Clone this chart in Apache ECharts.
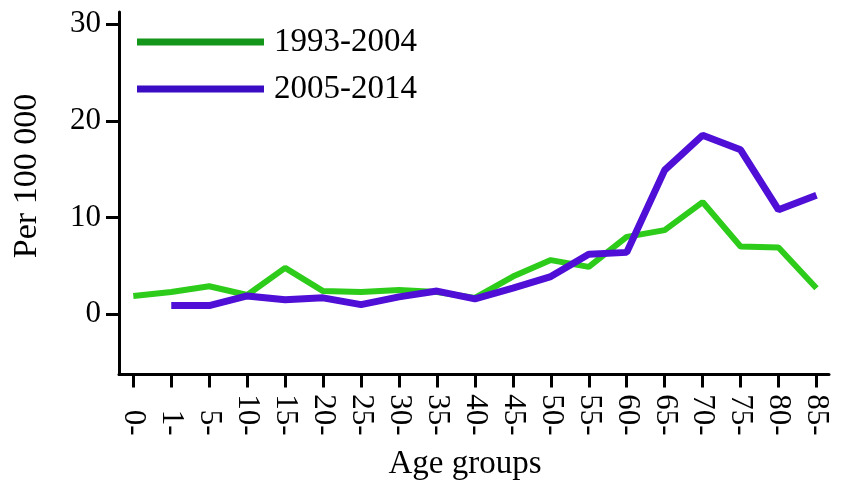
<!DOCTYPE html>
<html>
<head>
<meta charset="utf-8">
<script src="https://cdn.jsdelivr.net/npm/echarts@6/dist/echarts.min.js"></script>
<style>
html,body{margin:0;padding:0;background:#fff;}
#chart{width:853px;height:502px;}
</style>
</head>
<body>
<div id="chart"></div>
<script>
var categories = ['0-','1-','5-','10-','15-','20-','25-','30-','35-','40-','45-','50-','55-','60-','65-','70-','75-','80-','85-'];
var series1993 = [1.9, 2.3, 2.9, 2.0, 4.8, 2.4, 2.3, 2.5, 2.3, 1.7, 3.9, 5.6, 4.9, 8.0, 8.7, 11.6, 7.0, 6.9, 2.7];
var series2005 = [null, 0.9, 0.9, 1.9, 1.5, 1.7, 1.0, 1.8, 2.4, 1.6, 2.7, 3.9, 6.2, 6.4, 14.9, 18.5, 17.0, 10.8, 12.3];
var yTicks = [0, 10, 20, 30];
var seriesNames = ['1993-2004', '2005-2014'];

function toPairs(arr){
  var out = [];
  arr.forEach(function(v, i){ if (v !== null) out.push([i, v]); });
  return out;
}
var xIdx = categories.map(function(c, i){ return i; });

var chart = echarts.init(document.getElementById('chart'), null, {renderer:'canvas'});
var font = '"Liberation Serif", "Times New Roman", serif';
chart.setOption({
  animation: false,
  backgroundColor: '#fff',
  grid: {left: 119, right: 24, top: 12, bottom: 127.5},
  legend: {
    orient: 'vertical',
    left: 137,
    top: 24,
    padding: 0,
    itemWidth: 127,
    itemHeight: 7,
    itemGap: 11,
    icon: 'rect',
    textStyle: {fontFamily: font, fontSize: 33, color: '#000', lineHeight: 36, padding: [0,0,0,5]},
    data: [
      {name: seriesNames[0], itemStyle: {color: '#14961a'}},
      {name: seriesNames[1], itemStyle: {color: '#3a0cc4'}}
    ]
  },
  xAxis: {
    type: 'value',
    min: -0.377,
    max: 18.33,
    splitLine: {show: false},
    axisLine: {show: true, onZero: false, lineStyle: {color: '#000', width: 3}},
    axisTick: {show: true, customValues: xIdx, length: 13, lineStyle: {color: '#000', width: 3}},
    axisLabel: {
      customValues: xIdx,
      rotate: -90,
      align: 'right',
      verticalAlign: 'middle',
      margin: 61,
      fontFamily: font,
      fontSize: 31,
      color: '#000',
      formatter: function(v){ return categories[Math.round(v)]; }
    }
  },
  yAxis: {
    type: 'value',
    min: -6.22,
    max: 31.24,
    splitLine: {show: false},
    axisLine: {show: true, onZero: false, lineStyle: {color: '#000', width: 3}},
    axisTick: {show: true, customValues: yTicks, length: 13, lineStyle: {color: '#000', width: 3}},
    axisLabel: {customValues: yTicks, margin: 18, fontFamily: font, fontSize: 31, color: '#000'}
  },
  graphic: [
    {type: 'text', x: 27, y: 176, rotation: Math.PI/2,
     style: {text: 'Per 100 000', font: '34px ' + font, fill: '#000', textAlign: 'center', textVerticalAlign: 'middle'}},
    {type: 'text', x: 465, y: 464,
     style: {text: 'Age groups', font: '33px ' + font, fill: '#000', textAlign: 'center', textVerticalAlign: 'middle'}}
  ],
  series: [
    {name: seriesNames[0], type: 'line', data: toPairs(series1993), showSymbol: false, symbol: 'none',
     lineStyle: {color: '#2ecc1a', width: 6}, itemStyle: {color: '#2ecc1a'}, z: 2},
    {name: seriesNames[1], type: 'line', data: toPairs(series2005), showSymbol: false, symbol: 'none',
     lineStyle: {color: '#4f0fd6', width: 7}, itemStyle: {color: '#4f0fd6'}, z: 3}
  ]
});
</script>
</body>
</html>
